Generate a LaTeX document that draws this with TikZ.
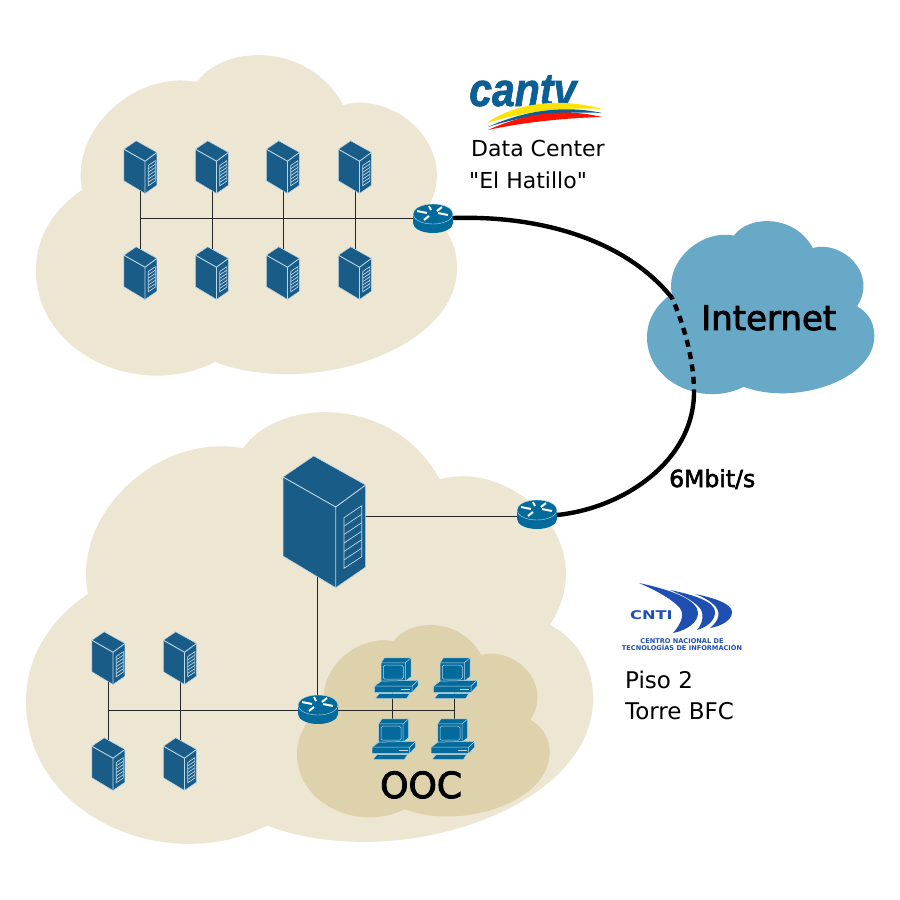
\documentclass[tikz,border=0pt]{standalone}
\usepackage{fontspec}
\setmainfont[Ligatures=TeXOff]{DejaVu Sans}
\newfontfamily\heavyfont[FakeBold=2.5]{DejaVu Sans}
\newfontfamily\logofont[FakeBold=1.5]{Liberation Sans}
\definecolor{cloudtan}{HTML}{EDE6D2}
\definecolor{cloudolive}{HTML}{DDD2AB}
\definecolor{cloudblue}{HTML}{67A9C7}
\definecolor{srvblue}{HTML}{1A5C88}
\definecolor{devblue}{HTML}{036A9C}
\definecolor{edgeblue}{HTML}{BFD8E6}
\definecolor{logoblue}{HTML}{0B5F94}
\definecolor{cntiblue}{HTML}{1F4FB0}
\tikzset{
    pics/blob/.style={code={
        \fill[pic actions] (0,215) .. controls (0,181) and (19,153) .. (46,135)
            .. controls (34,75) and (99,15) .. (161,27)
            .. controls (189,-12) and (274,-12) .. (307,50)
            .. controls (359,35) and (429,95) .. (389,158)
            .. controls (411,170) and (421,190) .. (421,213)
            .. controls (421,295) and (274,343) .. (179,307)
            .. controls (105,345) and (0,300) .. (0,215) -- cycle;
    }},
    pics/server/.style={code={
        \fill[srvblue,draw=edgeblue,line width=.5pt,line join=round] (-10.8,-65.5) -- (41.2,-36.5) -- (41.2,45.5) -- (11.2,66.2) -- (-41.5,34.5) -- (-41.5,-44.5) -- cycle;
        \draw[edgeblue,line width=.9pt] (-41.5,-44.5) -- (11.2,-14.5) -- (41.2,-36.5) (11.2,-14.5) -- (11.2,66.2);
        \draw[edgeblue,line width=.7pt] (19.5,-3.8) -- (37.2,-15.8) -- (37.2,35.2) -- (19.5,46.8) -- cycle;
        \foreach \k in {1,...,5}
        {
            \draw[edgeblue,line width=.7pt] (19.5,-3.8+8.43*\k) -- (37.2,-15.8+8.5*\k);
        }
    }},
    pics/router/.style={code={
        \fill[devblue] (-20,-4) -- (-20,5) arc (180:0:20 and 10) -- (20,-4) -- cycle;
        \fill[devblue,draw=edgeblue,line width=.4pt] (0,-4) ellipse (20 and 10);
        \foreach \xa/\ya/\xb/\yb in {-16/-7/-6/-5,15/-3/5/-5,-4/-12/-2/-8,-9/2/-4/-2,9/-11/4/-7}
        {
            \draw[white,line width=2pt] (\xa,\ya) -- (\xb,\yb);
        }
    }},
    pics/desktop/.style={code={
        \begin{scope}[line join=round,line width=.5pt]
        \fill[devblue,draw=edgeblue] (-15,-15.7) -- (-11.7,-20.7) -- (15,-20.7) -- (15,-1.7) -- (9.3,2.7) -- (-15,2.7) -- cycle;
        \draw[edgeblue] (-15,-15.7) -- (9.3,-15.7) -- (15,-20.7) (9.3,-15.7) -- (9.3,2.7);
        \draw[edgeblue,rounded corners=1.5pt] (-12.7,-13.3) rectangle (7.3,.7);
        \fill[devblue,draw=edgeblue] (-21.7,7.7) -- (-15,2.7) -- (22,1.7) -- (22,7.7) -- (16,14) -- (-21.7,14) -- cycle;
        \draw[edgeblue] (-21.7,7.7) -- (16,7.7) -- (22,1.7) (16,7.7) -- (16,14);
        \fill[edgeblue] (5,10) rectangle (14,11.7);
        \fill[devblue,draw=edgeblue] (-20.7,20) -- (-16.7,15) -- (14,15) -- (10.7,20) -- cycle;
        \end{scope}
    }},
    linkthin/.style={line width=.8pt,black!85},
    uplink/.style={line width=4.4pt,black},
    lbl/.style={font=\fontsize{22}{26}\selectfont,inner sep=0pt,anchor=base west},
}
\begin{document}
\begin{tikzpicture}[x=1pt,y=-1pt]
    \useasboundingbox (0,0) rectangle (900,900);
    \fill[white] (0,0) rectangle (900,900);
    % clouds
    \pic[fill=cloudtan] at (36,55) {blob};
    \pic[fill=cloudtan,scale=1.347] at (26,412) {blob};
    \pic[fill=cloudolive,scale=.6] at (297,625) {blob};
    \pic[fill=cloudblue,scale=.54] at (647,221) {blob};

    % data center
    \coordinate (rdc) at (433,218);
    \foreach \x/\n in {140.5/a,212/b,283/c,355/d}
    {
        \coordinate (up\n) at (\x,167);
        \coordinate (lo\n) at (\x,273);
        \draw[linkthin] (up\n) -- (lo\n);
    }
    \draw[linkthin] (upa |- rdc) -- (rdc);
    \foreach \n in {a,b,c,d}
    {
        \pic[scale=.4] at (up\n) {server};
        \pic[scale=.4] at (lo\n) {server};
    }
    \pic at (rdc) {router};

    % piso 2
    \coordinate (rtop) at (537,514);
    \coordinate (rmid) at (318,709);
    \coordinate (bigsrv) at (324.5,521.5);
    \draw[linkthin] (bigsrv |- rtop) ++(0,2) -- ([yshift=-2]rtop);
    \draw[linkthin] ([xshift=-1]rmid |- bigsrv) -- ([xshift=-1]rmid);
    \foreach \x/\n in {108.5/e,180/f}
    {
        \coordinate (up\n) at (\x,658);
        \coordinate (lo\n) at (\x,764);
        \draw[linkthin] (up\n) -- (lo\n);
    }
    \draw[linkthin] (upe |- rmid) ++(0,1) -- ++(346,0);
    \coordinate (pca) at (396,678.5);
    \coordinate (pcb) at (455,678.5);
    \coordinate (pcc) at (393.7,739.5);
    \coordinate (pcd) at (452.7,739.5);
    \draw[linkthin] ([xshift=-4]pca) -- ([xshift=-1.7]pcc);
    \draw[linkthin] ([xshift=-1]pcb) -- ([xshift=1.3]pcd);
    \foreach \n in {e,f}
    {
        \pic[scale=.4] at (up\n) {server};
        \pic[scale=.4] at (lo\n) {server};
    }
    \pic at (bigsrv) {server};
    \pic at (rtop) {router};
    \pic at (rmid) {router};
    \foreach \n in {a,b,c,d}
    {
        \pic at (pc\n) {desktop};
    }

    % enlace
    \coordinate (inet) at (672,298);
    \coordinate (onet) at (694,392);
    \draw[uplink] (453,218) .. controls (550,215) and (630,245) .. (inet);
    \draw[uplink,dash pattern=on 7pt off 5.5pt,dash phase=-7pt] (inet) .. controls (684,325) and (694,360) .. (onet);
    \draw[uplink] (onet) .. controls (694,460) and (625,508) .. (557,515);

    % textos
    \node[lbl] (dc) at (471,156) {Data Center};
    \node[lbl] (hat) at (469,188) {"El Hatillo"};
    \node[lbl,font=\fontsize{23}{26}\selectfont] (piso) at (625,688) {Piso 2};
    \node[lbl,font=\fontsize{23}{26}\selectfont] (torre) at (625,719) {Torre BFC};
    \node[inner sep=0pt,anchor=base west,font=\fontsize{34}{36}\heavyfont] (internet) at (701,330) {Internet};
    \node[inner sep=0pt,anchor=base west,font=\fontsize{23.5}{26}\heavyfont] (speed) at (669,487) {6Mbit/s};
    \node[inner sep=0pt,anchor=base west,font=\fontsize{36}{40}\heavyfont] (ooc) at (380,798) {OOC};

    % logos
    \node[inner sep=0pt,anchor=base west,text=logoblue,font=\fontsize{41}{44}\logofont\bfseries\itshape,transform shape,yscale=1.15] (cantv) at (469,106) {cantv};
    \fill[yellow!85!orange] (487,123) .. controls (515,103) and (560,97) .. (602,109) .. controls (565,107) and (525,111) .. (487,123) -- cycle;
    \fill[logoblue] (488,127) .. controls (525,110) and (565,105) .. (602,113) .. controls (565,111) and (525,115) .. (488,127) -- cycle;
    \fill[red!85!orange] (488,130) .. controls (525,113) and (565,108) .. (602,117) .. controls (565,118) and (525,122) .. (488,130) -- cycle;

    \fill[cntiblue] (639,583) .. controls (672,590) and (698,600) .. (698,613) .. controls (698,622) and (688,630) .. (673,633) .. controls (683,622) and (685,612) .. (678,606) .. controls (670,598) and (655,590) .. (639,583) -- cycle;
    \fill[cntiblue] (670,590) .. controls (695,595) and (715,602) .. (715,612) .. controls (715,621) and (707,627) .. (697,630) .. controls (704,622) and (704,612) .. (699,607) .. controls (692,600) and (682,595) .. (670,590) -- cycle;
    \fill[cntiblue] (695,594) .. controls (715,598) and (732,604) .. (732,612) .. controls (732,620) and (722,626) .. (710,628) .. controls (720,620) and (720,612) .. (716,607) .. controls (711,601) and (703,597) .. (695,594) -- cycle;
    \node[inner sep=0pt,text=cntiblue,font=\fontsize{12}{12}\selectfont\bfseries,transform shape,xscale=1.35] (cnti) at (651.5,615) {CNTI};
    \node[inner sep=0pt,align=center,text=cntiblue,font=\fontsize{6.6}{7}\selectfont\bfseries] (cntitxt) at (682,645) {CENTRO NACIONAL DE\\TECNOLOGÍAS DE INFORMACIÓN};
\end{tikzpicture}
\end{document}
